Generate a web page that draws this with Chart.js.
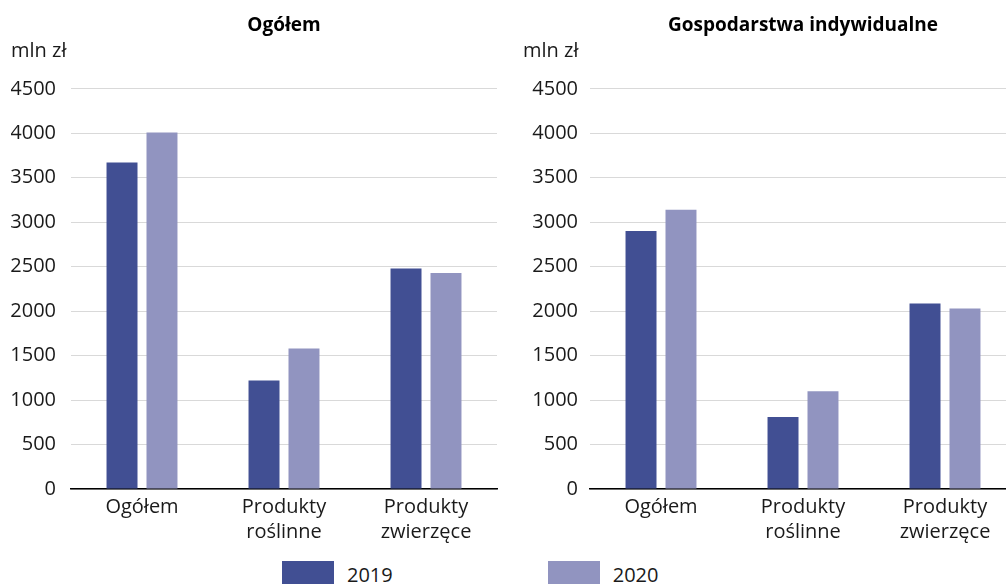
<!DOCTYPE html>
<html>
<head>
<meta charset="utf-8">
<script src="https://cdn.jsdelivr.net/npm/chart.js@4.4.1/dist/chart.umd.min.js"></script>
<style>
  html, body { margin: 0; padding: 0; background: #fff; overflow: hidden; width: 1006px; height: 584px; }
  #wrap { position: relative; width: 1006px; height: 584px; overflow: hidden; }
  canvas { position: absolute; top: 0; }
  #left { left: 0; }
  #right { left: 521px; }
  #legend { position: absolute; left: 282px; top: 561px; display: flex; font: 20px "Open Sans"; color: #1a1a1a; }
  #legend .item { display: flex; align-items: flex-start; }
  #legend .item + .item { margin-left: 155px; }
  #legend .swatch { width: 52px; height: 28px; margin-right: 13px; }
  #legend .txt { line-height: 28px; }
</style>
</head>
<body>
<div id="wrap">
  <canvas id="left" width="500" height="557"></canvas>
  <canvas id="right" width="500" height="557"></canvas>
  <div id="legend"></div>
</div>
<script>
// categories on the x axis
var categories = ['Ogółem', ['Produkty', 'roślinne'], ['Produkty', 'zwierzęce']];
var years = ['2019', '2020'];

// Ogółem panel (mln zł)
var total2019 = [3670, 1220, 2480];
var total2020 = [4010, 1580, 2430];

// Gospodarstwa indywidualne panel (mln zł)
var farms2019 = [2900, 810, 2085];
var farms2020 = [3140, 1100, 2030];

var yMin = 0, yMax = 4500, yStep = 500;

var colors = ['#414f93', '#9194c0'];
var fontFamily = '"Open Sans", "Noto Sans", sans-serif';
var textColor = '#1a1a1a';

function makeChart(id, title, v2019, v2020, padLeft, padRight, axisWidth, tickPad) {
  var ctx = document.getElementById(id).getContext('2d');
  return new Chart(ctx, {
    type: 'bar',
    data: {
      labels: categories,
      datasets: [
        { label: years[0], data: v2019, backgroundColor: colors[0],
          barPercentage: 0.775, categoryPercentage: 0.563 },
        { label: years[1], data: v2020, backgroundColor: colors[1],
          barPercentage: 0.775, categoryPercentage: 0.563 }
      ]
    },
    options: {
      responsive: false,
      animation: false,
      devicePixelRatio: 1,
      layout: { padding: { left: padLeft, right: padRight, top: 0, bottom: 6 } },
      plugins: {
        legend: { display: false },
        tooltip: { enabled: false },
        title: {
          display: true,
          text: title,
          fullSize: false,
          color: '#000',
          font: { family: fontFamily, size: 19, weight: 'bold' },
          padding: { top: 14, bottom: 2 }
        },
        subtitle: {
          display: true,
          text: 'mln zł',
          align: 'start',
          color: textColor,
          font: { family: fontFamily, size: 20 },
          padding: { top: 0, bottom: 26 }
        }
      },
      scales: {
        x: {
          grid: { display: false, drawTicks: false },
          border: { display: true, color: '#000', width: 1.5 },
          ticks: {
            color: textColor,
            padding: 6,
            maxRotation: 0,
            font: { family: fontFamily, size: 20, lineHeight: 1.25 }
          }
        },
        y: {
          min: yMin,
          max: yMax,
          grid: { color: '#d9d9d9', lineWidth: 1, drawTicks: false },
          border: { display: false },
          ticks: {
            stepSize: yStep,
            color: textColor,
            padding: tickPad,
            font: { family: fontFamily, size: 20 },
            callback: function (v) { return String(v); }
          },
          afterFit: function (scale) { scale.width = axisWidth; }
        }
      }
    }
  });
}

var leftChart = makeChart('left', 'Ogółem', total2019, total2020, 11, 3, 60, 15);
var rightChart = makeChart('right', 'Gospodarstwa indywidualne', farms2019, farms2020, 2, 5, 67, 12);

// html legend shared by both panels
var legendEl = document.getElementById('legend');
var items = leftChart.options.plugins.legend.labels.generateLabels(leftChart);
items.forEach(function (item) {
  var div = document.createElement('div');
  div.className = 'item';
  var sw = document.createElement('span');
  sw.className = 'swatch';
  sw.style.background = item.fillStyle;
  var tx = document.createElement('span');
  tx.className = 'txt';
  tx.textContent = item.text;
  div.appendChild(sw);
  div.appendChild(tx);
  legendEl.appendChild(div);
});
</script>
</body>
</html>
